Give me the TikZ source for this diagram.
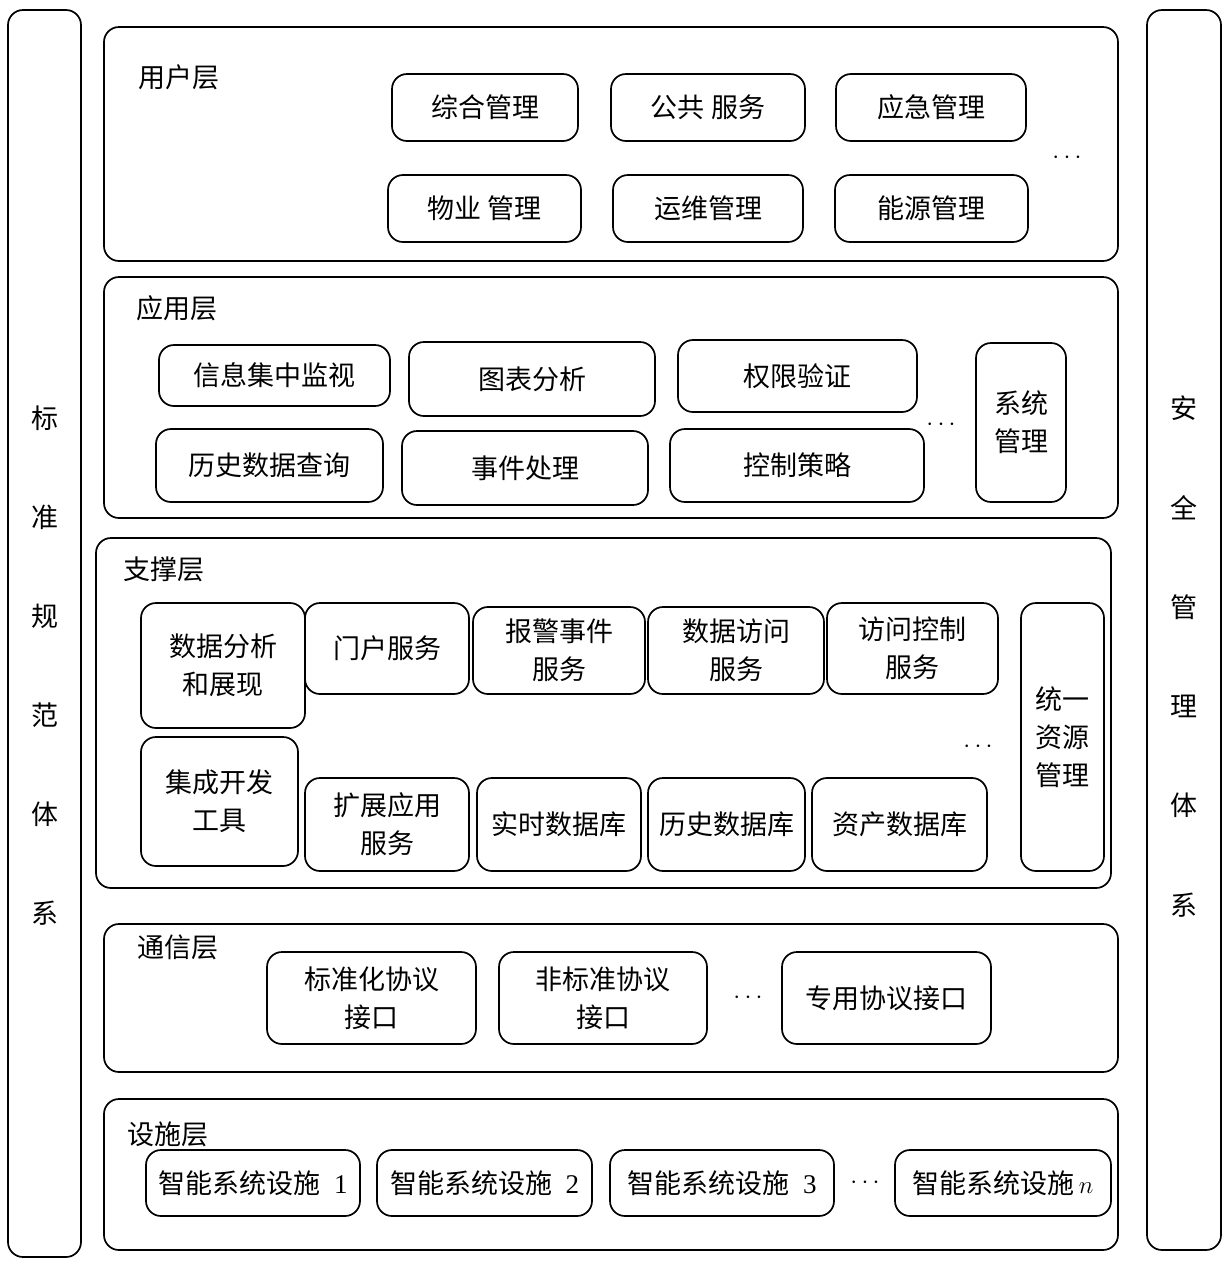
\documentclass[tikz,border=0pt]{standalone}
\usepackage{fontspec}
\setmainfont{Noto Sans CJK SC}
\newfontfamily\numfont{Liberation Serif}

\begin{document}
\begin{tikzpicture}[x=1pt,y=-1pt,
    font=\fontsize{27}{38}\selectfont,
    layer/.style={draw,line width=1.7pt,rounded corners=15pt},
    item/.style={draw,line width=1.7pt,rounded corners=15pt,align=center,inner sep=0pt},
    title/.style={anchor=west,inner sep=0pt},
    more/.style={inner sep=0pt}]
    \useasboundingbox (0,0) rectangle (1229,1262);
    % side frames
    \draw[layer] (8,10) rectangle (81,1257);
    \draw[layer] (1147,10) rectangle (1221,1250);
    \foreach \c [count=\i] in {标,准,规,范,体,系}
        \node (std\i) at (44.5,{418+99*(\i-1)}) {\c};
    \foreach \c [count=\i] in {安,全,管,理,体,系}
        \node (sec\i) at (1184,{408+99.4*(\i-1)}) {\c};
    % user layer
    \draw[layer] (104,27) rectangle (1118,261);
    \node[title] (user) at (138,77) {用户层};
    \node[item,minimum width=186pt,minimum height=67pt] (zhgl) at (485,107.5) {综合管理};
    \node[item,minimum width=194pt,minimum height=67pt] (ggfw) at (708,107.5) {公共 服务};
    \node[item,minimum width=190pt,minimum height=67pt] (yjgl) at (931,107.5) {应急管理};
    \node[item,minimum width=193pt,minimum height=67pt] (wygl) at (484.5,208.5) {物业 管理};
    \node[item,minimum width=190pt,minimum height=67pt] (ywgl) at (708,208.5) {运维管理};
    \node[item,minimum width=193pt,minimum height=67pt] (nygl) at (931.5,208.5) {能源管理};
    \node[more] (userdots) at (1067,158) {$\cdots$};
    % application layer
    \draw[layer] (104,277) rectangle (1118,518);
    \node[title] (app) at (136,308) {应用层};
    \node[item,minimum width=231pt,minimum height=61pt] (xxjz) at (274.5,375.5) {信息集中监视};
    \node[item,minimum width=246pt,minimum height=74pt] (tbfx) at (532,379) {图表分析};
    \node[item,minimum width=239pt,minimum height=72pt] (qxyz) at (797.5,376) {权限验证};
    \node[item,minimum width=227pt,minimum height=73pt] (lscx) at (269.5,465.5) {历史数据查询};
    \node[item,minimum width=246pt,minimum height=74pt] (sjcl) at (525,468) {事件处理};
    \node[item,minimum width=254pt,minimum height=73pt] (kzcl) at (797,465.5) {控制策略};
    \node[more] (appdots) at (941,425) {$\cdots$};
    \node[item,minimum width=90pt,minimum height=159pt] (xtgl) at (1021,422.5) {系统\\管理};
    % support layer
    \draw[layer] (96,538) rectangle (1111,888);
    \node[title] (supp) at (123,569) {支撑层};
    \node[item,minimum width=164pt,minimum height=125pt] (sjfx) at (223,665.5) {数据分析\\和展现};
    \node[item,minimum width=164pt,minimum height=91pt] (mhfw) at (387,648.5) {门户服务};
    \node[item,minimum width=172pt,minimum height=87pt] (bjsj) at (559,650.5) {报警事件\\服务};
    \node[item,minimum width=176pt,minimum height=87pt] (sjfw) at (736,650.5) {数据访问\\服务};
    \node[item,minimum width=171pt,minimum height=91pt] (fwkz) at (912.5,648.5) {访问控制\\服务};
    \node[item,minimum width=157pt,minimum height=129pt] (jckf) at (219.5,801.5) {集成开发\\工具};
    \node[item,minimum width=164pt,minimum height=93pt] (kzyy) at (387,824.5) {扩展应用\\服务};
    \node[item,minimum width=164pt,minimum height=93pt] (sssj) at (559,824.5) {实时数据库};
    \node[item,minimum width=157pt,minimum height=93pt] (lssj) at (726.5,824.5) {历史数据库};
    \node[item,minimum width=175pt,minimum height=93pt] (zcsj) at (899.5,824.5) {资产数据库};
    \node[more] (suppdots) at (978,747) {$\cdots$};
    \node[item,minimum width=83pt,minimum height=268pt] (tyzy) at (1062.5,737) {统一\\资源\\管理};
    % communication layer
    \draw[layer] (104,924) rectangle (1118,1072);
    \node[title] (comm) at (137,947) {通信层};
    \node[item,minimum width=209pt,minimum height=92pt] (bzh) at (371.5,998) {标准化协议\\接口};
    \node[item,minimum width=208pt,minimum height=92pt] (fbz) at (603,998) {非标准协议\\接口};
    \node[more] (commdots) at (748,998) {$\cdots$};
    \node[item,minimum width=209pt,minimum height=92pt] (zyxy) at (886.5,998) {专用协议接口};
    % facility layer
    \draw[layer] (104,1099) rectangle (1118,1250);
    \node[title] (faci) at (127,1134) {设施层};
    \node[item,minimum width=214pt,minimum height=66pt] (zn1) at (253,1183) {智能系统设施\enspace{\numfont 1}};
    \node[item,minimum width=215pt,minimum height=66pt] (zn2) at (484.5,1183) {智能系统设施\enspace{\numfont 2}};
    \node[item,minimum width=224pt,minimum height=66pt] (zn3) at (722,1183) {智能系统设施\enspace{\numfont 3}};
    \node[more] (facidots) at (865,1183) {$\cdots$};
    \node[item,minimum width=216pt,minimum height=66pt] (znn) at (1003,1183) {智能系统设施\,$n$};
\end{tikzpicture}
\end{document}
